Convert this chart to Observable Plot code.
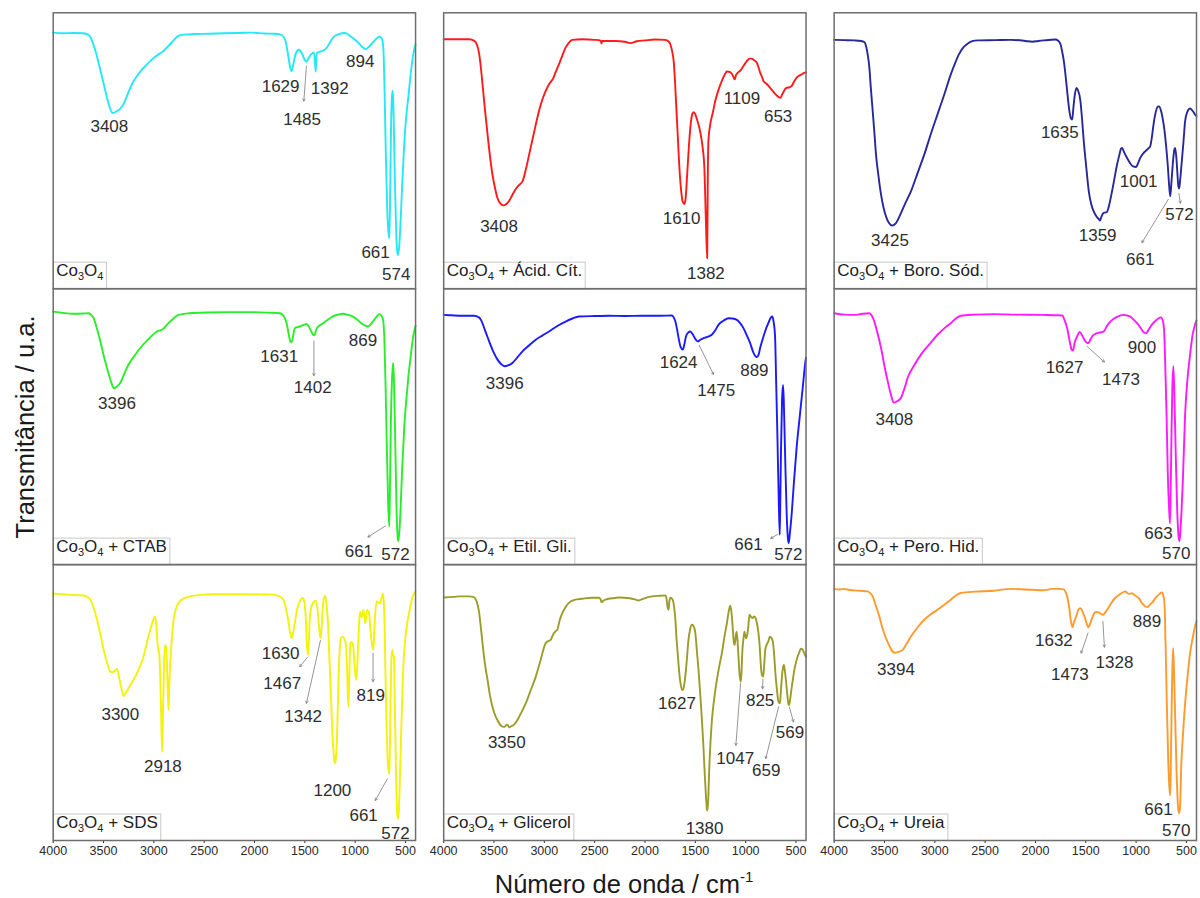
<!DOCTYPE html>
<html>
<head>
<meta charset="utf-8">
<script src="https://cdn.jsdelivr.net/npm/d3@7"></script>
<script src="https://cdn.jsdelivr.net/npm/@observablehq/plot@0.6"></script>
<style>
  body { margin: 0; background: #fff; }
  #chart { position: relative; width: 1200px; height: 898px; font-family: "Liberation Sans", Arial, sans-serif; color: #1a1a1a; }
  #chart svg { position: absolute; left: 0; top: 0; }
  .ytitle { position: absolute; left: 25px; top: 427px; transform: translate(-50%, -50%) rotate(-90deg); font-size: 25.5px; white-space: nowrap; }
  .xtitle { position: absolute; left: 624px; top: 884px; transform: translate(-50%, -50%); font-size: 25.5px; white-space: nowrap; }
  .xtitle sup { font-size: 15px; vertical-align: 0; position: relative; top: -11px; }
</style>
</head>
<body>
<div id="chart">
  <div class="ytitle">Transmitância / u.a.</div>
  <div class="xtitle">Número de onda / cm<sup>-1</sup></div>
</div>
<script>
// FTIR spectra of Co3O4 samples: [wavenumber (cm-1), transmittance (a.u., 0-100 within each panel)]
const samples = [
  "Co3O4", "Co3O4 + Ácid. Cít.", "Co3O4 + Boro. Sód.",
  "Co3O4 + CTAB", "Co3O4 + Etil. Gli.", "Co3O4 + Pero. Hid.",
  "Co3O4 + SDS", "Co3O4 + Glicerol", "Co3O4 + Ureia"
];
const lineColors = ["#22e8f8", "#ff1a1a", "#28289a", "#2aee2a", "#1a1aff", "#ff1aff", "#f2f20a", "#9c9c2a", "#ff9a2e"];
const xTicks = [4000, 3500, 3000, 2500, 2000, 1500, 1000, 500];

const spectrumPure = [[4000,92.8],[3900,92.6],[3800,92.7],[3700,92.6],[3650,92.0],[3610,89.5],[3575,85.5],[3540,80.5],[3500,74.5],[3465,69.2],[3435,65.3],[3408,63.7],[3375,64.2],[3340,65.0],[3300,67.0],[3260,70.5],[3217,74.1],[3150,78.0],[3090,80.5],[3036,82.5],[2970,84.5],[2904,86.2],[2850,88.2],[2800,90.2],[2756,91.6],[2700,92.1],[2600,92.3],[2450,92.4],[2300,92.6],[2150,92.7],[2029,92.8],[1900,92.5],[1800,92.4],[1748,92.2],[1715,91.5],[1690,89.5],[1665,84.5],[1645,80.0],[1629,78.9],[1612,81.8],[1590,85.2],[1560,86.6],[1530,85.4],[1505,83.2],[1485,82.2],[1462,83.6],[1435,85.0],[1410,85.6],[1399,82.0],[1392,78.7],[1386,83.5],[1378,85.5],[1340,86.0],[1290,86.9],[1255,89.0],[1220,91.0],[1160,92.3],[1104,92.7],[1080,92.4],[1050,91.6],[1006,90.4],[960,88.8],[925,87.5],[894,86.8],[860,87.8],[824,89.2],[790,90.6],[757,91.3],[735,90.6],[720,87.0],[708,72.0],[695,48.0],[680,27.0],[668,20.0],[661,18.3],[654,30.0],[645,55.0],[634,70.0],[626,71.8],[618,63.0],[606,40.0],[592,20.0],[582,13.5],[574,12.2],[562,15.5],[548,25.0],[530,40.0],[510,54.0],[490,63.5],[470,70.0],[445,79.0],[420,85.5],[400,88.5]];

const spectrumCitric = [[4000,90.4],[3900,90.4],[3800,90.4],[3746,90.4],[3700,89.9],[3670,88.5],[3647,85.0],[3630,80.0],[3614,74.1],[3590,65.0],[3564,55.9],[3540,48.0],[3515,41.3],[3490,36.5],[3465,32.8],[3435,30.8],[3408,30.2],[3380,30.6],[3350,31.8],[3320,33.8],[3290,35.8],[3250,37.6],[3217,38.9],[3185,43.0],[3151,48.6],[3100,57.0],[3053,64.4],[3020,68.5],[2987,71.6],[2950,74.3],[2930,75.3],[2915,76.0],[2890,78.3],[2855,81.3],[2820,84.6],[2789,87.4],[2750,89.4],[2722,90.2],[2623,90.4],[2500,90.2],[2440,89.9],[2432,88.9],[2424,89.8],[2300,89.8],[2200,89.5],[2145,89.0],[2080,89.7],[2000,90.0],[1900,90.3],[1800,90.2],[1765,89.6],[1748,88.6],[1730,86.0],[1715,82.5],[1700,74.0],[1692,68.0],[1675,56.0],[1660,45.0],[1640,35.3],[1625,31.5],[1610,30.7],[1597,32.5],[1580,42.0],[1563,52.0],[1545,60.0],[1528,63.5],[1515,64.0],[1500,63.2],[1480,61.0],[1455,57.5],[1430,52.0],[1410,43.7],[1395,25.0],[1382,11.0],[1376,40.0],[1370,53.5],[1352,59.5],[1325,64.0],[1302,68.0],[1270,72.0],[1236,75.3],[1205,77.8],[1186,78.7],[1153,78.5],[1130,77.5],[1109,75.9],[1095,77.5],[1080,78.2],[1054,79.0],[1020,80.8],[988,82.5],[960,83.4],[939,83.4],[915,82.8],[889,81.9],[870,80.0],[856,78.3],[840,77.0],[823,75.3],[790,74.2],[757,72.8],[720,71.2],[690,70.0],[670,69.4],[653,69.2],[640,70.2],[625,71.2],[605,72.5],[592,72.8],[565,73.0],[542,73.5],[520,75.0],[493,76.5],[470,77.2],[443,77.7],[418,78.2],[400,78.4]];

const spectrumBorohydride = [[4000,90.2],[3900,90.1],[3800,90.0],[3733,89.8],[3700,89.4],[3683,88.0],[3665,84.5],[3650,80.1],[3635,72.5],[3617,64.4],[3600,56.5],[3584,48.6],[3560,41.0],[3534,34.1],[3510,29.5],[3485,26.2],[3455,23.8],[3425,22.9],[3400,23.3],[3386,23.8],[3360,25.5],[3336,27.4],[3290,31.2],[3237,35.3],[3170,42.0],[3105,48.6],[3040,56.0],[2973,63.2],[2905,70.5],[2841,77.7],[2800,81.6],[2759,85.0],[2720,87.3],[2675,88.8],[2620,89.8],[2576,90.0],[2400,90.1],[2246,90.2],[2100,89.8],[2032,89.5],[1970,89.8],[1917,90.0],[1801,90.3],[1775,89.9],[1751,88.6],[1735,86.0],[1718,82.5],[1700,77.0],[1685,71.6],[1665,65.0],[1650,62.0],[1635,61.3],[1622,66.0],[1608,70.5],[1592,72.8],[1578,72.0],[1553,68.0],[1536,61.0],[1520,53.5],[1495,44.0],[1470,35.3],[1445,30.5],[1421,28.0],[1390,26.0],[1370,25.2],[1359,24.7],[1345,26.0],[1330,27.2],[1310,27.6],[1290,27.8],[1270,30.0],[1239,35.3],[1215,40.0],[1189,45.0],[1165,48.7],[1150,50.8],[1140,51.0],[1120,49.5],[1090,47.4],[1060,45.5],[1030,44.3],[1001,44.1],[975,46.0],[959,47.4],[930,49.0],[909,49.8],[880,50.8],[860,51.6],[845,54.5],[827,59.5],[805,64.0],[785,66.0],[770,66.1],[755,64.8],[740,62.5],[717,57.0],[700,51.0],[684,44.0],[672,37.5],[661,33.5],[650,38.0],[636,45.0],[622,50.0],[612,51.0],[600,47.5],[590,42.0],[580,37.0],[572,36.3],[562,39.5],[546,46.2],[530,53.0],[513,60.7],[490,64.2],[464,65.3],[440,64.5],[415,63.2],[400,62.5]];

const spectrumCTAB = [[4000,91.7],[3900,91.2],[3796,90.9],[3700,91.0],[3647,91.1],[3620,90.4],[3598,89.3],[3565,85.5],[3531,80.9],[3500,76.0],[3465,71.3],[3430,66.8],[3396,63.9],[3365,64.6],[3333,65.9],[3290,69.5],[3251,72.5],[3190,75.8],[3135,78.5],[3050,81.8],[2970,84.5],[2930,85.0],[2910,85.3],[2871,86.9],[2810,89.0],[2756,90.5],[2650,91.1],[2474,91.4],[2250,91.5],[2013,91.5],[1850,91.3],[1748,91.1],[1720,90.5],[1699,89.3],[1680,87.3],[1660,83.5],[1645,81.0],[1631,80.6],[1615,83.2],[1600,85.7],[1570,86.1],[1550,86.3],[1510,86.9],[1484,87.2],[1460,86.3],[1440,84.8],[1420,83.4],[1402,83.1],[1390,84.8],[1375,85.9],[1330,87.2],[1286,88.4],[1250,89.3],[1220,90.0],[1170,90.6],[1121,90.9],[1070,90.5],[1022,89.9],[980,88.8],[939,87.5],[900,86.6],[869,86.3],[850,86.9],[824,88.1],[790,89.7],[757,90.8],[738,90.2],[722,88.5],[710,82.0],[698,65.0],[685,42.0],[672,22.0],[661,13.8],[654,28.0],[645,52.0],[630,70.0],[622,73.1],[614,66.0],[602,45.0],[590,22.0],[580,11.0],[572,8.4],[562,11.5],[550,19.0],[535,33.0],[512,50.0],[490,60.5],[470,68.5],[445,76.5],[420,83.5],[400,86.5]];

const spectrumEthyleneGlycol = [[4000,90.5],[3940,90.4],[3895,90.3],[3800,90.2],[3700,90.2],[3650,89.6],[3630,88.7],[3590,85.0],[3548,80.9],[3505,77.0],[3465,74.3],[3430,72.7],[3396,71.9],[3360,72.2],[3317,73.1],[3270,75.0],[3217,77.3],[3150,79.5],[3085,81.5],[3020,83.0],[2953,84.5],[2870,86.5],[2789,88.1],[2720,89.2],[2657,89.9],[2500,90.1],[2359,90.2],[2200,90.1],[2029,90.2],[1850,90.2],[1731,90.3],[1712,89.4],[1698,88.1],[1680,85.0],[1666,82.1],[1645,78.8],[1624,77.9],[1608,80.0],[1593,82.7],[1570,84.1],[1550,84.5],[1525,83.4],[1500,81.8],[1475,80.9],[1450,81.5],[1418,82.1],[1390,82.4],[1369,82.7],[1336,83.3],[1300,85.0],[1270,86.9],[1220,88.4],[1170,89.3],[1130,89.2],[1087,88.7],[1055,87.5],[1022,85.7],[990,83.2],[955,80.3],[925,77.0],[889,75.2],[870,76.2],[856,78.5],[830,81.8],[807,84.5],[775,87.5],[750,89.5],[734,89.9],[722,88.0],[708,83.0],[696,65.0],[684,46.0],[672,25.0],[661,10.8],[655,25.0],[648,42.6],[638,60.0],[628,65.1],[620,58.0],[608,40.0],[592,18.0],[580,9.5],[572,7.8],[560,11.5],[542,18.6],[520,30.0],[493,42.6],[470,51.0],[443,60.5],[425,67.0],[410,72.5],[400,75.0]];

const spectrumPeroxide = [[4000,91.1],[3900,90.6],[3799,90.5],[3720,90.9],[3650,91.1],[3625,90.2],[3601,88.1],[3570,84.0],[3534,78.5],[3500,72.0],[3468,66.5],[3435,61.5],[3408,58.7],[3375,59.2],[3336,60.5],[3300,64.0],[3270,67.7],[3200,72.5],[3138,76.1],[3050,80.0],[2973,83.3],[2900,85.8],[2841,87.5],[2790,89.2],[2742,90.2],[2600,90.6],[2412,90.8],[2200,90.6],[1917,90.5],[1800,90.4],[1734,90.3],[1710,88.5],[1685,85.7],[1660,81.0],[1640,77.9],[1627,77.6],[1610,80.5],[1586,82.7],[1560,84.3],[1535,83.0],[1510,81.2],[1487,80.4],[1473,80.3],[1455,81.5],[1437,82.7],[1410,83.5],[1388,83.9],[1350,84.2],[1322,84.5],[1290,86.5],[1256,88.1],[1190,89.8],[1124,90.5],[1090,90.3],[1058,89.9],[1025,88.8],[991,87.5],[950,85.5],[925,84.2],[900,83.9],[875,85.2],[843,87.0],[800,88.6],[754,89.6],[735,88.5],[722,85.0],[710,72.0],[698,55.0],[685,33.0],[672,20.0],[663,15.0],[656,28.0],[648,48.6],[640,64.0],[630,71.9],[620,62.0],[608,42.6],[592,20.0],[580,11.0],[570,8.4],[560,12.0],[548,20.0],[535,31.0],[513,54.6],[490,67.0],[464,76.1],[440,83.0],[415,86.9],[400,88.5]];

const spectrumSDS = [[4000,89.5],[3930,89.3],[3861,89.1],[3760,88.9],[3697,88.8],[3660,88.3],[3630,87.3],[3600,84.5],[3564,80.0],[3530,74.5],[3499,69.1],[3465,64.5],[3432,61.2],[3405,61.0],[3383,61.8],[3365,62.2],[3350,60.0],[3325,55.5],[3300,52.4],[3280,53.5],[3251,55.2],[3220,57.2],[3185,59.4],[3140,63.0],[3102,66.7],[3070,71.5],[3036,76.4],[3010,79.5],[2990,81.2],[2975,78.0],[2965,72.0],[2955,69.3],[2945,67.0],[2930,50.0],[2918,32.1],[2910,45.0],[2900,62.0],[2890,70.9],[2878,70.0],[2868,62.0],[2855,47.3],[2845,58.0],[2831,67.9],[2815,76.0],[2800,81.0],[2780,84.0],[2756,86.1],[2700,87.8],[2640,88.5],[2500,89.1],[2409,89.3],[2200,89.3],[1950,89.2],[1815,89.1],[1760,88.6],[1716,87.5],[1690,84.5],[1666,80.0],[1645,75.0],[1630,73.3],[1615,75.5],[1600,78.8],[1575,84.0],[1550,86.7],[1520,87.9],[1505,86.5],[1490,80.0],[1478,70.0],[1467,67.3],[1460,72.0],[1452,80.0],[1434,84.8],[1410,86.5],[1390,86.9],[1375,84.0],[1360,78.0],[1350,74.5],[1342,73.3],[1334,77.0],[1322,84.0],[1310,88.0],[1298,88.7],[1286,86.0],[1272,80.0],[1258,68.0],[1240,52.0],[1225,38.0],[1210,30.0],[1200,27.9],[1190,30.5],[1180,38.0],[1168,55.0],[1155,68.0],[1142,73.3],[1125,73.9],[1105,73.0],[1090,70.5],[1080,62.0],[1068,48.5],[1058,60.0],[1048,71.5],[1035,72.0],[1020,70.5],[1005,63.0],[990,58.2],[980,63.0],[970,71.0],[960,79.0],[950,83.0],[940,81.0],[930,81.2],[920,83.6],[910,82.0],[900,78.7],[890,81.5],[880,83.6],[870,83.0],[862,82.4],[850,77.0],[838,72.5],[828,70.0],[819,69.1],[810,75.5],[800,82.4],[785,86.7],[768,86.3],[752,86.0],[738,87.8],[725,89.5],[715,86.0],[708,78.0],[700,62.0],[690,45.0],[678,30.0],[668,25.5],[661,24.2],[654,36.0],[646,55.0],[638,67.0],[630,69.1],[622,67.0],[615,66.7],[607,52.0],[597,30.0],[585,12.0],[578,8.5],[572,7.9],[564,12.0],[556,22.0],[545,36.0],[526,59.4],[505,72.0],[477,80.0],[450,85.0],[428,88.5],[411,89.7],[400,90.2]];

const spectrumGlycerol = [[4000,88.1],[3900,88.3],[3845,88.5],[3746,88.5],[3700,88.2],[3680,87.3],[3660,85.0],[3647,82.4],[3630,77.0],[3614,71.5],[3590,64.0],[3564,58.2],[3540,52.5],[3515,48.5],[3490,45.5],[3465,43.6],[3440,42.0],[3415,41.3],[3395,41.2],[3375,42.0],[3362,41.8],[3350,41.0],[3330,41.4],[3300,42.0],[3275,43.2],[3251,44.8],[3220,47.0],[3185,49.7],[3140,54.0],[3085,59.4],[3040,65.0],[2987,71.5],[2960,72.3],[2937,72.7],[2915,74.5],[2890,75.8],[2871,76.4],[2850,79.5],[2822,82.4],[2790,84.5],[2756,86.1],[2700,87.2],[2623,87.6],[2530,88.0],[2458,88.0],[2440,87.4],[2432,86.4],[2410,87.0],[2392,87.3],[2300,87.9],[2260,88.1],[2150,87.8],[2100,87.4],[2062,87.0],[2020,87.6],[1930,88.5],[1850,88.7],[1798,88.8],[1785,87.5],[1775,84.5],[1766,83.6],[1758,86.5],[1748,88.0],[1725,87.3],[1710,84.5],[1698,80.0],[1688,74.0],[1675,67.9],[1660,61.0],[1645,56.5],[1627,54.5],[1612,56.0],[1598,60.0],[1583,66.0],[1570,72.0],[1552,76.5],[1534,78.2],[1515,77.5],[1500,75.3],[1485,69.0],[1468,61.8],[1450,52.5],[1434,43.6],[1420,34.5],[1408,25.5],[1395,16.5],[1385,11.5],[1380,10.9],[1372,14.5],[1362,25.5],[1350,35.0],[1335,43.6],[1310,52.0],[1286,58.2],[1260,63.5],[1236,67.9],[1210,74.0],[1186,78.8],[1168,83.0],[1153,85.1],[1140,82.5],[1130,78.0],[1118,72.0],[1110,70.9],[1100,73.5],[1090,75.7],[1080,72.0],[1070,66.0],[1060,60.0],[1047,57.6],[1040,62.0],[1032,69.1],[1022,73.0],[1012,75.7],[1003,74.0],[995,73.3],[985,74.5],[975,77.0],[962,81.8],[945,81.0],[932,80.6],[915,81.2],[900,80.5],[885,78.2],[872,75.0],[860,70.3],[850,64.0],[838,60.0],[825,59.4],[815,64.0],[805,69.1],[790,71.0],[775,72.1],[760,73.9],[745,73.5],[730,72.1],[718,68.0],[705,61.0],[690,55.0],[675,50.5],[659,49.7],[650,54.0],[640,59.0],[630,62.5],[620,63.6],[610,61.5],[598,57.5],[585,52.5],[575,49.5],[569,49.1],[560,50.5],[548,54.0],[536,57.0],[515,62.0],[493,65.5],[470,68.0],[450,69.5],[435,69.3],[418,67.9],[400,66.5]];

const spectrumUrea = [[4000,91.2],[3950,91.0],[3898,91.2],[3850,90.8],[3750,90.5],[3666,90.3],[3640,89.6],[3617,88.5],[3585,85.0],[3551,81.2],[3520,77.0],[3485,73.3],[3450,70.5],[3419,68.5],[3394,68.0],[3360,68.4],[3319,69.1],[3280,71.3],[3237,73.9],[3170,77.3],[3105,80.0],[3040,82.0],[2973,83.6],[2940,84.5],[2923,85.0],[2880,86.2],[2841,87.3],[2790,88.8],[2742,89.7],[2600,90.2],[2412,90.5],[2246,91.2],[2100,91.0],[1917,90.7],[1834,91.2],[1760,91.2],[1718,91.0],[1700,90.0],[1685,88.5],[1665,84.5],[1648,79.5],[1632,77.3],[1618,79.0],[1596,81.2],[1575,83.5],[1553,84.2],[1530,82.8],[1513,81.2],[1495,79.0],[1473,77.3],[1455,78.8],[1437,80.6],[1415,82.4],[1394,82.8],[1371,82.7],[1350,82.2],[1328,81.8],[1310,82.5],[1289,83.6],[1255,85.5],[1223,87.3],[1170,89.0],[1107,90.3],[1090,89.8],[1074,89.4],[1041,89.6],[1010,88.8],[975,87.9],[940,86.0],[909,84.8],[889,84.6],[865,85.4],[843,86.1],[800,88.2],[770,89.3],[744,89.9],[728,88.5],[718,86.0],[708,72.0],[695,50.0],[680,28.0],[668,18.5],[661,16.4],[655,28.0],[648,45.0],[640,62.0],[632,69.7],[624,62.0],[612,45.0],[598,25.0],[585,13.0],[578,10.5],[570,9.9],[562,13.0],[553,25.5],[535,38.0],[513,49.7],[490,59.0],[464,67.9],[440,73.0],[415,77.6],[400,79.5]];

const spectra = [spectrumPure, spectrumCitric, spectrumBorohydride, spectrumCTAB, spectrumEthyleneGlycol, spectrumPeroxide, spectrumSDS, spectrumGlycerol, spectrumUrea];

// Band assignments: [peak wavenumber, label x (cm-1), label y]
const peakLabels = [
  [[3408,3442,58.7],[1629,1741,73.1],[1485,1527,61.3],[1392,1253,72.7],[894,949,82.2],[661,797,13.2],[574,592,5.0]],
  [[3408,3450,22.5],[1610,1636,25.3],[1382,1395,5.6],[1109,1037,68.8],[653,677,62.5]],
  [[3425,3445,17.3],[1635,1758,56.5],[1359,1382,19.2],[1001,975,38.7],[572,569,26.8],[661,959,10.7]],
  [[3396,3366,58.4],[1631,1755,75.5],[1402,1422,64.1],[869,923,81.3],[661,963,4.8],[572,599,3.6]],
  [[3396,3393,65.6],[1624,1666,73.4],[1475,1292,63.2],[889,913,70.4],[661,972,7.2],[572,576,3.6]],
  [[3408,3402,52.4],[1627,1711,71.6],[1473,1150,66.9],[900,942,78.5],[663,777,11.2],[570,602,4.0]],
  [[3300,3333,45.5],[2918,2910,26.7],[1630,1741,67.9],[1467,1725,57.0],[1342,1517,44.8],[1200,1226,18.2],[819,845,52.4],[661,916,9.1],[572,599,2.4]],
  [[3350,3373,35.5],[1627,1682,49.5],[1380,1408,4.5],[1047,1104,29.7],[825,856,50.9],[659,796,25.2],[569,559,39.2]],
  [[3394,3386,62.1],[1632,1817,72.5],[1473,1658,60.3],[1328,1215,64.5],[889,892,79.4],[661,777,11.2],[570,602,3.6]]
];

// Leader lines from band to label: [x1, y1, x2, y2]
const leaders = [
  [[1484,80.7,1510,68.0]],
  [],
  [[680,32.4,942,16.7],[575,34.5,560,31.0]],
  [[1410,81.0,1410,68.5],[700,14.0,873,10.0]],
  [[1461,79.5,1319,68.9],[680,11.0,750,9.5]],
  [[1487,79.1,1315,73.4]],
  [[1472,66.5,1550,63.0],[1345,72.5,1484,49.7],[822,67.9,822,57.6],[680,22.4,800,14.5]],
  [[1050,57.0,1097,34.5],[828,58.5,832,55.0],[672,48.5,800,29.7],[565,48.3,525,43.0]],
  [[1478,75.2,1546,67.9],[1330,79.4,1315,70.1]]
];

const panelOf = i => ({col: i % 3, row: Math.floor(i / 3)});
const lineRows = spectra.flatMap((s, i) => s.map(([wn, t]) => ({i, wn, t, ...panelOf(i)})));
const labelRows = peakLabels.flatMap((list, i) => list.map(([peak, x, y]) => ({text: String(peak), x, y, ...panelOf(i)})));
const leaderRows = leaders.flatMap((list, i) => list.map(([x1, y1, x2, y2]) => ({x1, y1, x2, y2, ...panelOf(i)})));
const nameRows = samples.map((name, i) => ({name, ...panelOf(i)}));

const chart = Plot.plot({
  width: 1200,
  height: 898,
  marginLeft: 52.7,
  marginRight: 4,
  marginTop: 12.3,
  marginBottom: 58,
  style: {fontFamily: "'Liberation Sans', Arial, sans-serif", fontSize: "12.5px", color: "#2a2a2a", background: "transparent", overflow: "visible"},
  fx: {domain: [0, 1, 2], axis: null, paddingInner: 0.072, paddingOuter: 0, round: false},
  fy: {domain: [0, 1, 2], axis: null, padding: 0, round: false},
  x: {domain: [4000, 400], ticks: xTicks, tickSize: 3, tickPadding: 3, tickFormat: d => String(d), label: null},
  y: {domain: [0, 100], axis: null},
  color: {type: "identity"},
  marks: [
    Plot.line(lineRows, {x: "wn", y: "t", z: "i", stroke: d => lineColors[d.i], fx: "col", fy: "row", strokeWidth: 1.9, curve: "monotone-x"}),
    Plot.arrow(leaderRows, {x1: "x1", y1: "y1", x2: "x2", y2: "y2", fx: "col", fy: "row", stroke: "#7a7a7a", strokeWidth: 0.8, headLength: 4.5}),
    Plot.text(labelRows, {x: "x", y: "y", text: "text", fx: "col", fy: "row", fontSize: 17, fill: "#2e2e2e"}),
    Plot.text(nameRows, {text: "name", fx: "col", fy: "row", frameAnchor: "bottom-left", textAnchor: "start", dx: 3, dy: -13, fontSize: 17, fill: "#222"}),
    Plot.frame({stroke: "#6e6e6e", strokeWidth: 1.5})
  ]
});

const host = document.getElementById("chart");
host.insertBefore(chart, host.firstChild);

// Sample names: subscript the formula digits and draw a boxed background
d3.select(chart).selectAll("text").each(function() {
  const raw = this.textContent;
  if (!raw.startsWith("Co3O4")) return;
  const text = d3.select(this);
  text.text(null);
  let lowered = false;
  raw.split(/(\d)/).forEach(part => {
    if (part === "") return;
    if (/^\d$/.test(part)) {
      text.append("tspan").attr("font-size", 11).attr("dy", lowered ? 0 : 4).text(part);
      lowered = true;
    } else {
      text.append("tspan").attr("dy", lowered ? -4 : 0).text(part);
      lowered = false;
    }
  });
  const b = this.getBBox();
  const rect = document.createElementNS("http://www.w3.org/2000/svg", "rect");
  const tr = this.getAttribute("transform");
  if (tr) rect.setAttribute("transform", tr);
  rect.setAttribute("x", b.x - 3);
  rect.setAttribute("y", -13.5);
  rect.setAttribute("width", b.width + 6);
  rect.setAttribute("height", 26.5);
  rect.setAttribute("fill", "#fff");
  rect.setAttribute("stroke", "#c8c8c8");
  rect.setAttribute("stroke-width", 1);
  this.parentNode.insertBefore(rect, this);
});
</script>
</body>
</html>
